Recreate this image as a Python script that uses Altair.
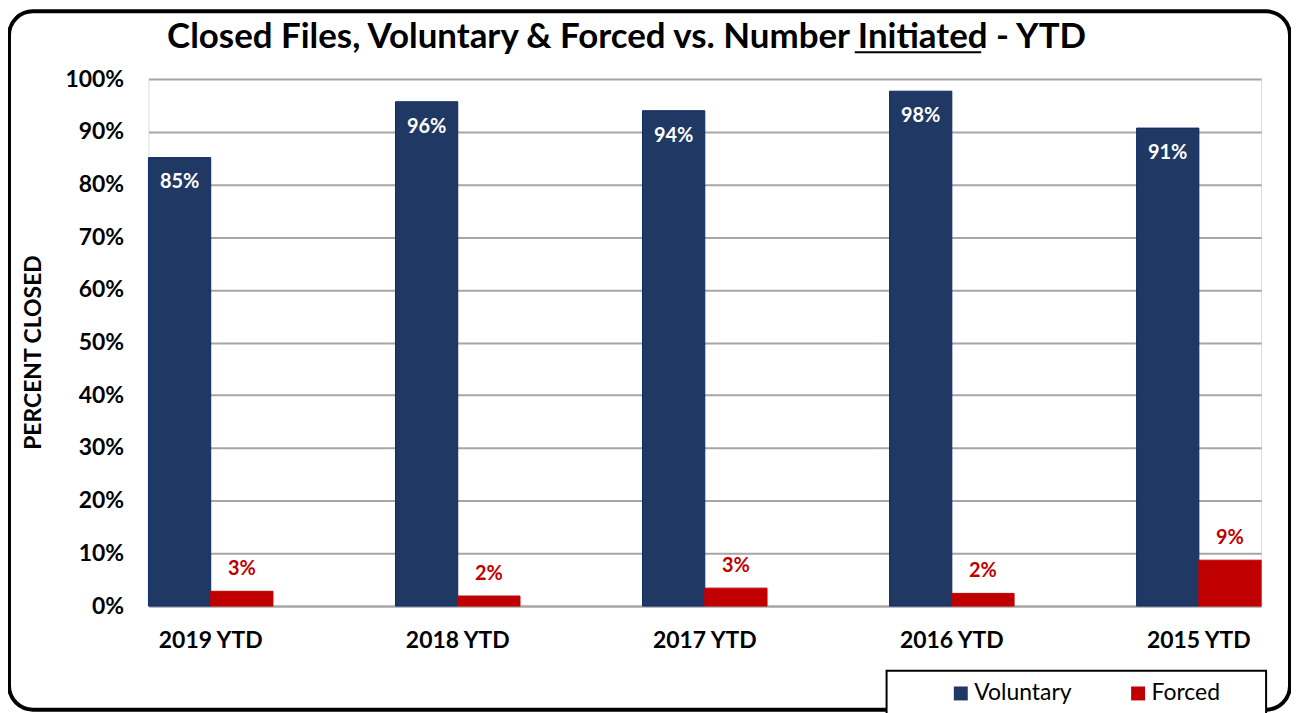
import altair as alt
import pandas as pd

categories = ["2019 YTD", "2018 YTD", "2017 YTD", "2016 YTD", "2015 YTD"]
voluntary = [0.851, 0.957, 0.940, 0.977, 0.907]
forced = [0.028, 0.019, 0.034, 0.024, 0.087]
series = ["Voluntary", "Forced"]
colors = ["#203864", "#C00000"]
strokes = ["#0E2A66", "#C00000"]
title_text = "Closed Files, Voluntary & Forced vs. Number Initiated - YTD"

rows = []
for c, v, f in zip(categories, voluntary, forced):
    rows.append({"cat": c, "series": "Voluntary", "value": v})
    rows.append({"cat": c, "series": "Forced", "value": f})
df = pd.DataFrame(rows)

FONT = "Lato"
W, H = 1117, 529

base = alt.Chart(df).encode(
    x=alt.X("cat:N", sort=categories, title=None,
            scale=alt.Scale(paddingInner=0.496, paddingOuter=0),
            axis=alt.Axis(labelAngle=0, ticks=False, labelPadding=24,
                          labelFontSize=23, labelFont=FONT, labelFontWeight="bold",
                          labelColor="black", domainColor="#a6a6a6", domainWidth=2,
                          grid=False)),
    xOffset=alt.XOffset("series:N", sort=series,
                        scale=alt.Scale(paddingInner=0, paddingOuter=0)),
)

bars = base.mark_bar(strokeWidth=1).encode(
    y=alt.Y("value:Q", scale=alt.Scale(domain=[0, 1], nice=False),
            title="PERCENT CLOSED",
            axis=alt.Axis(values=[i / 10 for i in range(11)], format=".0%",
                          ticks=False, domain=False, labelPadding=25,
                          labelFontSize=23, labelFont=FONT, labelFontWeight="bold",
                          labelColor="black", titleFont=FONT, titleFontSize=23,
                          titleFontWeight="bold", titleColor="black", titlePadding=20,
                          titleY=274, titleAlign="center",
                          gridColor="#a6a6a6", gridWidth=2)),
    color=alt.Color("series:N", sort=series,
                    scale=alt.Scale(domain=series, range=colors),
                    legend=alt.Legend(title=None, orient="none", legendX=804, legendY=605,
                                      direction="horizontal", symbolType="square",
                                      symbolSize=196, symbolStrokeWidth=0,
                                      labelFont=FONT, labelFontSize=23, labelColor="black",
                                      labelOffset=2, columnPadding=55, padding=0)),
    stroke=alt.Stroke("series:N", scale=alt.Scale(domain=series, range=strokes), legend=None),
)

vol_labels = base.mark_text(color="white", font=FONT, fontSize=20, fontWeight="bold",
                            baseline="middle", dy=25).encode(
    y="value:Q", text=alt.Text("value:Q", format=".0%")
).transform_filter(alt.datum.series == "Voluntary")

forced_labels = base.mark_text(color="#C00000", font=FONT, fontSize=20, fontWeight="bold",
                               baseline="middle", dy=-22).encode(
    y="value:Q", text=alt.Text("value:Q", format=".0%")
).transform_filter(alt.datum.series == "Forced")

one = alt.Data(values=[{"a": 1}])
frame = alt.Chart(one).mark_rect(fill="white", fillOpacity=0, stroke="black",
                                 strokeWidth=4, cornerRadius=24).encode(
    x=alt.value(-140), x2=alt.value(1146), y=alt.value(-68), y2=alt.value(633))

legend_box = alt.Chart(one).mark_rect(fill="white", stroke="black", strokeWidth=2).encode(
    x=alt.value(741), x2=alt.value(1122), y=alt.value(594), y2=alt.value(645))

title = alt.Chart(one).mark_text(font=FONT, fontSize=35, fontWeight="bold", color="black",
                                 align="center", baseline="alphabetic").encode(
    x=alt.value(480), y=alt.value(-31), text=alt.value(title_text))

underline = alt.Chart(one).mark_rule(color="black", strokeWidth=2).encode(
    x=alt.value(709), x2=alt.value(836), y=alt.value(-27))

chart = alt.layer(frame, legend_box, bars, vol_labels, forced_labels, title, underline).properties(
    width=W, height=H,
    autosize=alt.AutoSizeParams(type="none"),
    padding={"left": 141, "top": 70, "right": 30, "bottom": 106},
).configure_view(fill="#d9d9d9", stroke="#b0b0b0", strokeWidth=1
).configure(background="white")

chart.save("out.html", embed_options={"renderer": "svg", "actions": False})
